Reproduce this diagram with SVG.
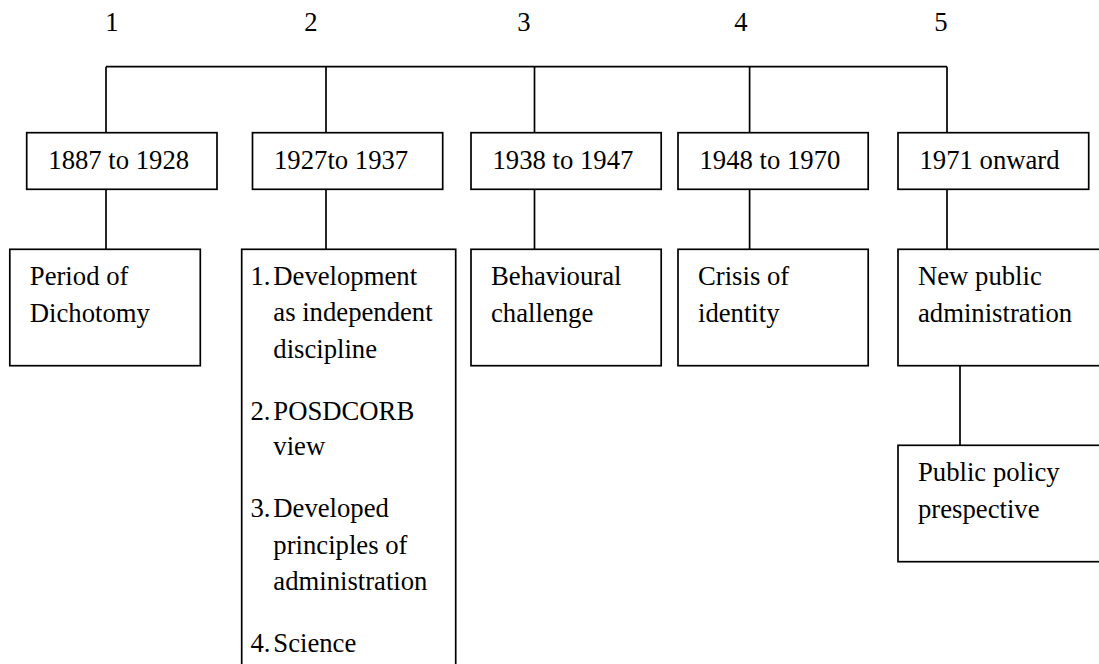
<svg xmlns="http://www.w3.org/2000/svg" width="1099" height="664" viewBox="0 0 1099 664">
<style>
  .box { fill: #fff; stroke: #000; stroke-width: 1.7; }
  .ln { stroke: #000; stroke-width: 1.7; fill: none; }
  .t { font-family: 'Liberation Serif', 'Times New Roman', serif; font-size: 26.7px; fill: #000; }
  .num { text-anchor: middle; }
</style>
<rect x="0" y="0" width="1099" height="664" fill="#fff"/>
<g id="labels" class="t">
  <text class="num" x="112" y="31">1</text>
  <text class="num" x="311" y="31">2</text>
  <text class="num" x="524" y="31">3</text>
  <text class="num" x="741" y="31">4</text>
  <text class="num" x="941" y="31">5</text>
</g>
<g id="connectors">
  <path class="ln" d="M106 66.7 H947"/>
  <path class="ln" d="M106 66.7 V132.7 M326 66.7 V132.7 M534.5 66.7 V132.7 M749.6 66.7 V132.7 M947 66.7 V132.7"/>
  <path class="ln" d="M106 189.3 V249.3 M326 189.3 V249.3 M534.5 189.3 V249.3 M749.6 189.3 V249.3 M947 189.3 V249.3"/>
  <path class="ln" d="M960 365.7 V445.3"/>
</g>
<g id="p1" class="t">
  <rect class="box" x="26.7" y="132.7" width="190.3" height="56.6"/>
  <text x="48.3" y="169">1887 to 1928</text>
</g>
<g id="p2" class="t">
  <rect class="box" x="252.5" y="132.7" width="190.2" height="56.6"/>
  <text x="274" y="169">1927to 1937</text>
</g>
<g id="p3" class="t">
  <rect class="box" x="471" y="132.7" width="190.2" height="56.6"/>
  <text x="492.5" y="169">1938 to 1947</text>
</g>
<g id="p4" class="t">
  <rect class="box" x="678" y="132.7" width="190.2" height="56.6"/>
  <text x="699.5" y="169">1948 to 1970</text>
</g>
<g id="p5" class="t">
  <rect class="box" x="898" y="132.7" width="190.7" height="56.6"/>
  <text x="919.5" y="169">1971 onward</text>
</g>
<g id="d1" class="t">
  <rect class="box" x="9.8" y="249.3" width="190.5" height="116.4"/>
  <text x="29.8" y="285">Period of</text>
  <text x="29.8" y="321.7">Dichotomy</text>
</g>
<g id="d2" class="t">
  <rect class="box" x="241.7" y="249.3" width="214" height="440"/>
  <text x="250.5" y="284.5">1.</text><text x="273.3" y="284.5">Development</text>
  <text x="273.3" y="321">as independent</text>
  <text x="273.3" y="357.5">discipline</text>
  <text x="250.5" y="420">2.</text><text x="273.3" y="420">POSDCORB</text>
  <text x="273.3" y="455">view</text>
  <text x="250.5" y="517.3">3.</text><text x="273.3" y="517.3">Developed</text>
  <text x="273.3" y="553.5">principles of</text>
  <text x="273.3" y="590">administration</text>
  <text x="250.5" y="652">4.</text><text x="273.3" y="652">Science</text>
</g>
<g id="d3" class="t">
  <rect class="box" x="471" y="249.3" width="190.2" height="116.4"/>
  <text x="491" y="285">Behavioural</text>
  <text x="491" y="321.7">challenge</text>
</g>
<g id="d4" class="t">
  <rect class="box" x="678" y="249.3" width="190.2" height="116.4"/>
  <text x="698" y="285">Crisis of</text>
  <text x="698" y="321.7">identity</text>
</g>
<g id="d5" class="t">
  <rect class="box" x="898" y="249.3" width="220" height="116.4"/>
  <text x="918" y="285">New public</text>
  <text x="918" y="321.7">administration</text>
</g>
<g id="d6" class="t">
  <rect class="box" x="898" y="445.3" width="220" height="116.4"/>
  <text x="918" y="481">Public policy</text>
  <text x="918" y="517.7">prespective</text>
</g>
</svg>
